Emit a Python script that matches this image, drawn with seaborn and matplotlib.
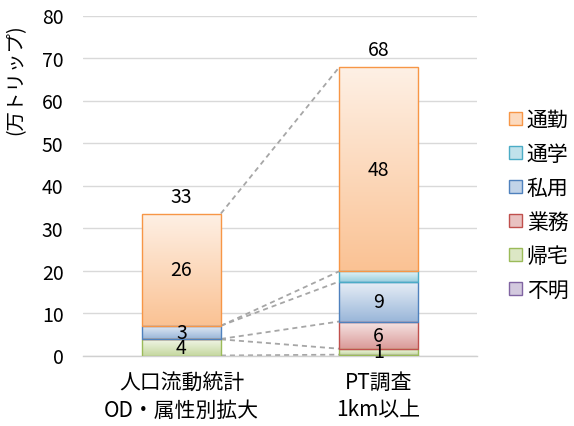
import numpy as np
import matplotlib
matplotlib.use("Agg")
import matplotlib.pyplot as plt
import matplotlib.colors as mcolors
from matplotlib.patches import Patch
import seaborn as sns

# Trips by purpose (10k trips), two survey sources
categories = ["人口流動統計\nOD・属性別拡大", "PT調査\n1km以上"]
series_names = ["不明", "帰宅", "業務", "私用", "通学", "通勤"]  # stacked bottom -> top
unknown = [0.0, 0.2]
home = [3.8, 1.4]
business = [0.1, 6.4]
private = [3.1, 9.4]
school = [0.0, 2.4]
commute = [26.4, 48.0]
series_values = [unknown, home, business, private, school, commute]
series_colors = ["#8064A2", "#9BBB59", "#C0504D", "#4F81BD", "#4BACC6", "#F79646"]
labeled_series = {"帰宅", "業務", "私用", "通勤"}
y_ticks = [0, 10, 20, 30, 40, 50, 60, 70, 80]
y_label = "(万トリップ)"

sns.set_theme(style="white")
plt.rcParams["font.family"] = ["Noto Sans CJK JP", "DejaVu Sans"]
plt.rcParams["text.color"] = "black"

W, H = 574, 427
fig = plt.figure(figsize=(W / 100, H / 100), dpi=100)
ax = fig.add_axes([83 / W, 1 - 356.5 / H, (477 - 83) / W, (356.5 - 16.5) / H])

NUM_SIZE = 14


def tint(color, amount):
    base = np.array(mcolors.to_rgb(color))
    return base * (1 - amount) + amount


def gradient_fill(ax, patch, color):
    x0, y0 = patch.get_x(), patch.get_y()
    w, h = patch.get_width(), patch.get_height()
    if h <= 0:
        return
    top = tint(color, 0.86)
    bot = tint(color, 0.42)
    t = np.linspace(0, 1, 128)[:, None]
    rgb = top * (1 - t) + bot * t
    img = rgb[:, None, :]
    im = ax.imshow(img, extent=[x0, x0 + w, y0, y0 + h], origin="upper",
                   aspect="auto", zorder=2, interpolation="bilinear")
    im.set_clip_path(patch)


bottoms = np.zeros(len(categories))
cum_tops = []
for name, vals, col in zip(series_names, series_values, series_colors):
    n_before = len(ax.patches)
    sns.barplot(x=categories, y=vals, color=col, width=0.4, saturation=1,
                errorbar=None, ax=ax)
    new_patches = ax.patches[n_before:]
    for i, (p, b, v) in enumerate(zip(new_patches, bottoms, vals)):
        p.set_y(b)
        p.set_facecolor("none")
        p.set_edgecolor(col)
        p.set_linewidth(1.0)
        p.set_zorder(3)
        if v <= 0:
            p.set_visible(False)
            continue
        gradient_fill(ax, p, col)
        if name in labeled_series and round(v) >= 1:
            ax.text(p.get_x() + p.get_width() / 2, b + v / 2, f"{v:.0f}",
                    ha="center", va="center", fontsize=NUM_SIZE, zorder=5)
    bottoms = bottoms + np.array(vals)
    cum_tops.append((new_patches, bottoms.copy()))

# Series lines joining the segment tops of the two bars
for patches, tops in cum_tops:
    left, right = patches[0], patches[1]
    xa = left.get_x() + left.get_width()
    xb = right.get_x()
    ax.plot([xa, xb], [tops[0], tops[1]], color="#A6A6A6", lw=1.3,
            dashes=(2.8, 2.2), zorder=1.5)

# Totals above each bar
for i, tot in enumerate(bottoms):
    ax.annotate(f"{tot:.0f}", (i, tot), xytext=(0, 5), textcoords="offset points",
                ha="center", va="bottom", fontsize=NUM_SIZE, zorder=5)

ax.set_xlim(-0.5, 1.5)
ax.set_ylim(0, 80)
ax.set_yticks(y_ticks)
ax.set_yticklabels([str(t) for t in y_ticks])
ax.yaxis.grid(True, color="#D9D9D9", lw=1.0)
ax.set_axisbelow(True)
for s in ["top", "right", "left"]:
    ax.spines[s].set_visible(False)
ax.spines["bottom"].set_color("#D0D0D0")
ax.spines["bottom"].set_linewidth(1.0)
ax.tick_params(axis="y", length=0, pad=14, labelsize=NUM_SIZE, labelcolor="black")
ax.tick_params(axis="x", length=0, pad=11, labelsize=15, labelcolor="black")
for lab in ax.get_xticklabels():
    lab.set_linespacing(1.35)
ax.set_xlabel("")
ax.set_ylabel("")

fig.text(16 / W, 1 - 80 / H, y_label, rotation=90, ha="center", va="center",
         fontsize=14)

handles = [Patch(facecolor=tint(c, 0.65), edgecolor=c, lw=1.0)
           for c in series_colors[::-1]]
fig.legend(handles, series_names[::-1], loc="center left",
           bbox_to_anchor=(509 / W, 1 - 206 / H), frameon=False, fontsize=15,
           handlelength=0.6, handleheight=0.6, handletextpad=0.25,
           labelspacing=0.58, borderpad=0, borderaxespad=0)

fig.savefig("out.png", dpi=100)
